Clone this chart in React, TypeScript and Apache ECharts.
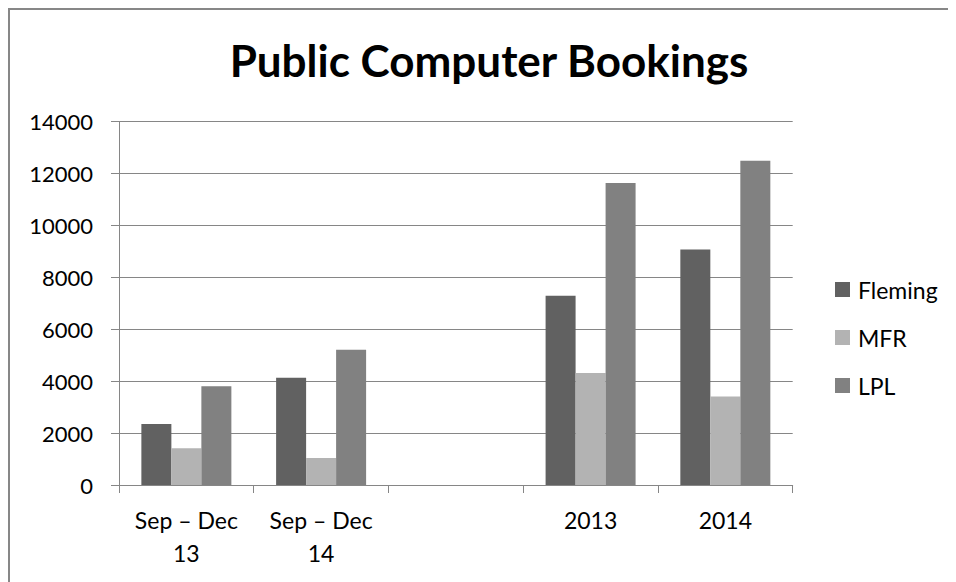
import React, { useEffect, useRef } from "react";
import * as echarts from "echarts";

const categories = ["Sep – Dec\n13", "Sep – Dec\n14", "", "2013", "2014"];
const flemingValues = [2350, 4130, null, 7290, 9070];
const mfrValues = [1420, 1040, null, 4310, 3410];
const lplValues = [3800, 5210, null, 11630, 12490];
const seriesNames = ["Fleming", "MFR", "LPL"];
const seriesColors = ["#616161", "#b3b3b3", "#818181"];

const FONT = "Lato";

export default function App() {
  const ref = useRef<HTMLDivElement>(null);
  useEffect(() => {
    if (!ref.current) return;
    const chart = echarts.init(ref.current, null, { renderer: "svg" });
    const data = [flemingValues, mfrValues, lplValues];
    chart.setOption({
      animation: false,
      backgroundColor: "#ffffff",
      title: {
        text: "Public Computer Bookings",
        left: 476,
        textAlign: "center",
        top: 25,
        textStyle: { fontFamily: FONT, fontWeight: "bold", fontSize: 44, color: "#000" },
      },
      graphic: [
        {
          type: "polyline",
          shape: { points: [[1, 574], [1, 1], [948, 1]] },
          style: { stroke: "#878787", lineWidth: 2, fill: "none" },
          silent: true,
        },
      ],
      legend: {
        orient: "vertical",
        left: 822,
        top: 265,
        itemWidth: 15,
        itemHeight: 15,
        itemGap: 25,
        icon: "rect",
        data: seriesNames,
        textStyle: {
          fontFamily: FONT,
          fontSize: 23,
          color: "#000",
          padding: [0, 0, 0, 3],
        },
      },
      grid: { left: 111, top: 113.5, width: 673.7, height: 363.5, containLabel: false },
      xAxis: {
        type: "category",
        data: categories,
        axisLine: { lineStyle: { color: "#868686", width: 1 } },
        axisTick: { show: true, length: 8, lineStyle: { color: "#868686" } },
        axisLabel: {
          fontFamily: FONT,
          fontSize: 23,
          color: "#000",
          lineHeight: 33,
          margin: 18,
          interval: 0,
        },
      },
      yAxis: {
        type: "value",
        min: 0,
        max: 14000,
        interval: 2000,
        axisLine: { show: true, lineStyle: { color: "#868686", width: 1 } },
        axisTick: { show: true, length: 8, lineStyle: { color: "#868686" } },
        splitLine: { lineStyle: { color: "#868686", width: 1 } },
        axisLabel: {
          fontFamily: FONT,
          fontSize: 22,
          color: "#000",
          margin: 26,
          formatter: (v: number) => String(v),
        },
      },
      series: seriesNames.map((name, i) => ({
        name,
        type: "bar",
        data: data[i],
        barWidth: 30,
        barGap: "0%",
        itemStyle: { color: seriesColors[i] },
      })),
    });
    return () => chart.dispose();
  }, []);
  return <div ref={ref} style={{ width: 948, height: 574 }} />;
}
